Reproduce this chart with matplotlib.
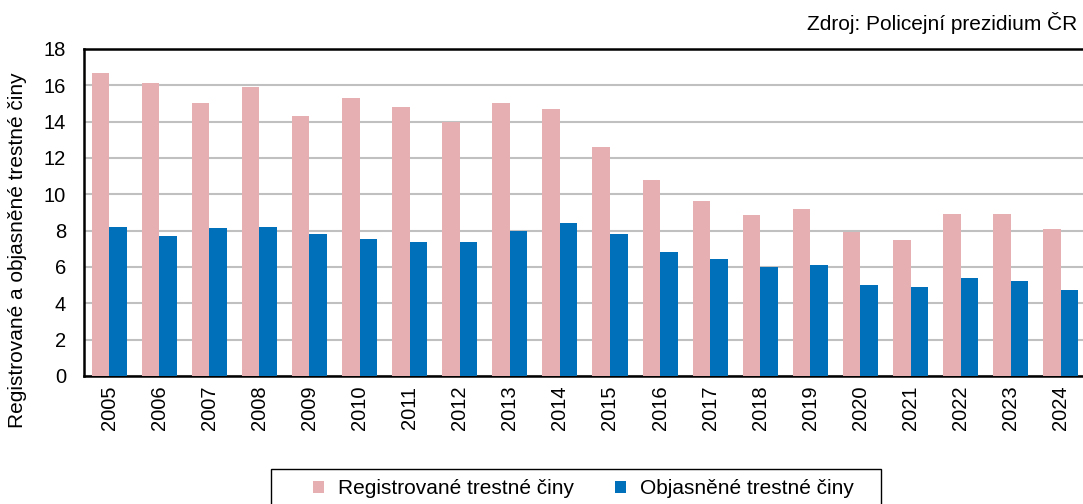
import numpy as np
import matplotlib
matplotlib.use("Agg")
import matplotlib.pyplot as plt
import matplotlib.patches as mpatches

plt.rcParams['font.family'] = ['Liberation Sans', 'DejaVu Sans']

# data
years = ['2005', '2006', '2007', '2008', '2009', '2010', '2011', '2012', '2013', '2014',
         '2015', '2016', '2017', '2018', '2019', '2020', '2021', '2022', '2023', '2024']
registered = [16.7, 16.1, 15.0, 15.9, 14.3, 15.3, 14.8, 14.0, 15.0, 14.7,
              12.6, 10.8, 9.65, 8.85, 9.2, 7.95, 7.5, 8.9, 8.9, 8.1]
solved = [8.2, 7.7, 8.15, 8.2, 7.8, 7.55, 7.4, 7.4, 8.0, 8.4,
          7.8, 6.8, 6.45, 6.0, 6.1, 5.0, 4.9, 5.4, 5.25, 4.75]

label_reg = 'Registrované trestné činy'
label_sol = 'Objasněné trestné činy'
ylab = 'Registrované a objasněné trestné činy'
source = 'Zdroj: Policejní prezidium ČR'

c_reg = '#E6AFB2'
c_sol = '#0070BA'

W, H = 1083, 504
fig = plt.figure(figsize=(W / 100, H / 100), dpi=100)
ax = fig.add_axes([0.0776, 0.254, 0.925, 0.649])

x = np.arange(len(years))
w = 0.35
ax.bar(x - w/2, registered, w, color=c_reg, label=label_reg, zorder=3)
ax.bar(x + w/2, solved, w, color=c_sol, label=label_sol, zorder=3)

ax.set_xlim(-0.5, len(years) - 0.5)
ax.set_ylim(0, 18)
ax.set_yticks(np.arange(0, 19, 2))
ax.set_xticks(x)
ax.set_xticklabels(years, rotation=90)
ax.tick_params(axis='both', length=0, labelsize=14.5)
ax.tick_params(axis='y', pad=13)
ax.tick_params(axis='x', pad=7)
ax.yaxis.grid(True, color='#C0C0C0', linewidth=1.5, zorder=0)

for s in ['top', 'left', 'bottom']:
    ax.spines[s].set_linewidth(1.8)
    ax.spines[s].set_color('black')
ax.spines['right'].set_visible(False)

# y label placed by hand, like the original
fig.text(18 / W, 1 - 250 / H, ylab, rotation=90, ha='center', va='center', fontsize=15)

fig.text(0.995, 0.955, source, ha='right', va='center', fontsize=15)

# legend: frameless, with its own box that runs off the bottom edge
leg = fig.legend(loc='center left', bbox_to_anchor=(313 / W, 1 - 489 / H), ncol=2, fontsize=15,
                 frameon=False, handlelength=0.55, handleheight=0.55, columnspacing=1.95,
                 borderpad=0, borderaxespad=0, handletextpad=0.65)
box = mpatches.Rectangle((271 / W, -0.05), (881 - 271) / W, 0.05 + 1 - 469 / H,
                         transform=fig.transFigure, fill=False, edgecolor='black', linewidth=1.0)
fig.patches.append(box)

fig.savefig('out.png', dpi=100)
